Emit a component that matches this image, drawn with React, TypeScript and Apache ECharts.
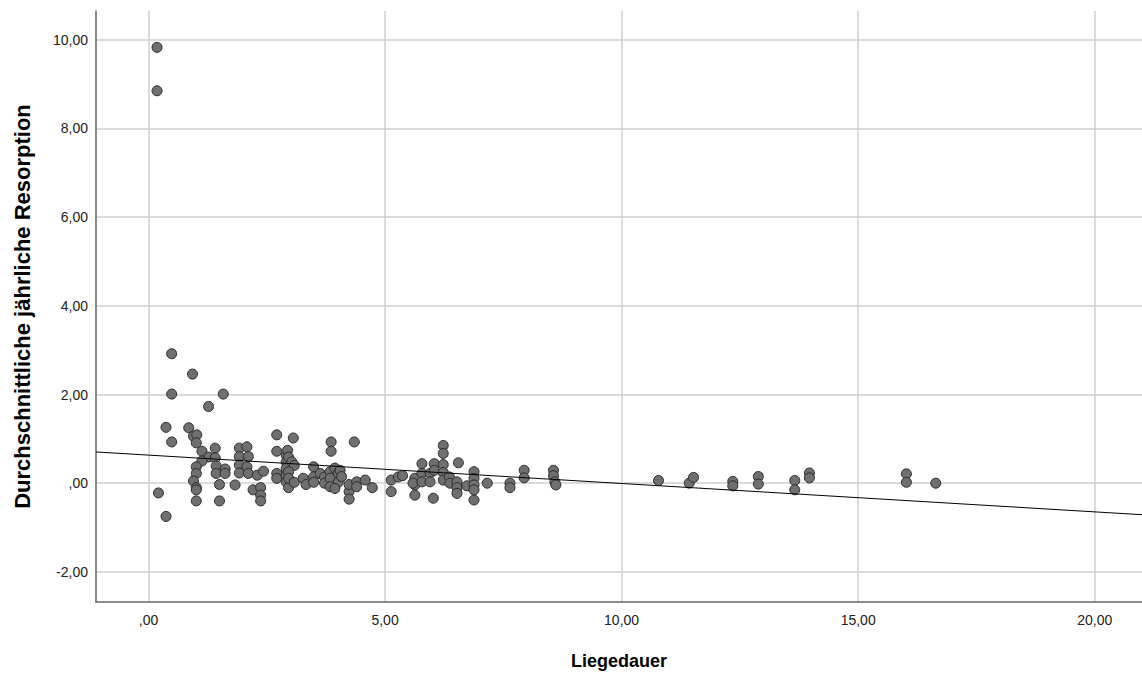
import React, { useEffect, useRef } from "react";
import * as echarts from "echarts";

// Scatter data: [Liegedauer, Durchschnittliche jährliche Resorption]
const outlierPoints: number[][] = [
  [0.18, 9.83], [0.18, 8.85],
];
const earlyPoints: number[][] = [
  [0.49, 2.92], [0.93, 2.46], [0.49, 2.01], [1.58, 2.01], [1.27, 1.73], [0.37, 1.26],
  [0.49, 0.93], [0.85, 1.25], [0.21, -0.22], [0.37, -0.75],
  [0.95, 1.06], [1.02, 1.09], [1.01, 0.91], [1.13, 0.72], [1.27, 0.59], [1.13, 0.5],
  [1.01, 0.37], [1.01, 0.22], [0.95, 0.05], [1.01, -0.1], [1.01, -0.15], [1.01, -0.4],
  [1.41, 0.79], [1.41, 0.57], [1.43, 0.39], [1.43, 0.22], [1.62, 0.32], [1.62, 0.22],
  [1.5, -0.03], [1.5, -0.4], [1.83, -0.04],
  [1.92, 0.79], [2.08, 0.82], [1.92, 0.6], [2.11, 0.6], [1.92, 0.41], [2.08, 0.37],
  [1.92, 0.23], [2.11, 0.22], [2.3, 0.18], [2.43, 0.27], [2.21, -0.15], [2.37, -0.1],
  [2.37, -0.27], [2.37, -0.4],
  [2.71, 1.09], [2.71, 0.72], [2.71, 0.22], [2.71, 0.11],
  [2.91, 0.63], [2.91, 0.48], [2.91, 0.33], [2.91, 0.18], [2.91, 0.03], [2.96, -0.1], [3.06, 1.02],
];
const midPoints: number[][] = [
  [2.94, 0.74], [2.96, 0.59], [3.03, 0.48], [3.08, 0.4], [2.96, 0.26], [2.96, 0.11],
  [3.08, 0.02], [3.27, 0.11], [3.33, -0.03], [3.49, 0.37], [3.49, 0.14], [3.49, 0.02],
  [3.63, 0.22], [3.72, 0.14], [3.72, 0.0], [3.86, 0.93], [3.86, 0.72], [3.84, 0.26],
  [3.84, 0.11], [3.84, -0.08], [3.94, 0.34], [4.01, 0.22], [4.01, 0.02], [3.94, -0.12],
  [4.05, 0.29], [4.08, 0.15], [4.35, 0.93], [4.24, -0.19], [4.24, -0.36], [4.24, -0.03],
  [4.4, 0.03], [4.4, -0.08], [4.58, 0.07], [4.73, -0.1], [5.13, 0.07], [5.13, -0.19],
  [5.28, 0.14], [5.37, 0.17], [5.63, 0.11], [5.63, -0.04], [5.63, -0.27], [5.59, 0.0],
  [5.78, 0.44], [5.78, 0.22], [5.78, 0.03], [5.95, 0.22], [5.95, 0.03], [6.04, 0.44],
  [6.04, 0.29], [6.02, -0.34], [6.23, 0.85], [6.23, 0.67], [6.23, 0.42], [6.23, 0.24],
  [6.23, 0.07], [6.36, 0.14], [6.37, 0.0], [6.55, 0.46], [6.52, 0.03], [6.52, -0.1],
  [6.52, -0.23], [6.73, -0.06], [6.88, 0.26], [6.88, 0.11], [6.88, -0.04], [6.88, -0.15],
  [6.88, -0.38], [7.16, 0.0],
];
const latePoints: number[][] = [
  [7.64, 0.0], [7.64, -0.1], [7.94, 0.29], [7.94, 0.12], [8.56, 0.29], [8.56, 0.17],
  [8.59, 0.03], [8.61, -0.04],
  [10.78, 0.06], [11.43, 0.0], [11.52, 0.13], [12.35, 0.04], [12.35, -0.06], [12.89, 0.15],
  [12.89, -0.02], [13.66, 0.06], [13.66, -0.15], [13.97, 0.23], [13.97, 0.12], [16.02, 0.21],
  [16.02, 0.02], [16.64, 0.0],
];

// Fit line (linear regression)
const fitIntercept = 0.633;
const fitSlope = -0.064;
const xRange = [-1.11, 21.0];
const yRange = [-2.68, 10.65];

const xTitle = "Liegedauer";
const yTitle = "Durchschnittliche jährliche Resorption";

const fmt = (v: number) => {
  let s = Math.abs(v).toFixed(2).replace(".", ",");
  if (s.startsWith("0,")) s = s.slice(1);
  return (v < 0 ? "-" : "") + s;
};

export default function App() {
  const ref = useRef<HTMLDivElement>(null);
  useEffect(() => {
    if (!ref.current) return;
    const chart = echarts.init(ref.current, undefined, { renderer: "svg" });
    const points = [...outlierPoints, ...earlyPoints, ...midPoints, ...latePoints];
    const fitLine = xRange.map((x) => [x, fitIntercept + fitSlope * x]);
    const font = "'Liberation Sans', Arial, sans-serif";
    chart.setOption({
      animation: false,
      backgroundColor: "#ffffff",
      grid: { left: 96, right: 0, top: 11, bottom: 69, containLabel: false },
      xAxis: {
        type: "value",
        min: xRange[0],
        max: xRange[1],
        splitNumber: 5,
        name: xTitle,
        nameLocation: "middle",
        nameGap: 50,
        nameTextStyle: { fontFamily: font, fontSize: 18, fontWeight: "bold", color: "#000" },
        axisLine: { show: true, onZero: false, lineStyle: { color: "#666", width: 1.5 } },
        axisTick: { show: false },
        axisLabel: {
          fontFamily: font, fontSize: 14, color: "#222", margin: 11,
          showMinLabel: false, showMaxLabel: false,
          formatter: (v: number) => fmt(v),
        },
        splitLine: { show: true, showMinLine: false, showMaxLine: false, lineStyle: { color: "#cfcfcf", width: 1.5 } },
      },
      yAxis: {
        type: "value",
        min: yRange[0],
        max: yRange[1],
        splitNumber: 7,
        name: yTitle,
        nameLocation: "middle",
        nameGap: 63,
        nameTextStyle: { fontFamily: font, fontSize: 22, fontWeight: "bold", color: "#000" },
        axisLine: { show: true, onZero: false, lineStyle: { color: "#666", width: 1.5 } },
        axisTick: { show: false },
        axisLabel: {
          fontFamily: font, fontSize: 14, color: "#222", margin: 8,
          showMinLabel: false, showMaxLabel: false,
          formatter: (v: number) => fmt(v),
        },
        splitLine: { show: true, showMinLine: false, showMaxLine: false, lineStyle: { color: "#cfcfcf", width: 1.5 } },
      },
      series: [
        {
          type: "line",
          data: fitLine,
          symbol: "none",
          lineStyle: { color: "#000", width: 1 },
          z: 3,
        },
        {
          type: "scatter",
          data: points,
          symbolSize: 10,
          itemStyle: { color: "#6f6f6f", borderColor: "#2b2b2b", borderWidth: 1, opacity: 1 },
          z: 2,
        },
      ],
    });
    return () => chart.dispose();
  }, []);
  return (
    <div
      ref={ref}
      style={{ position: "fixed", left: 0, top: 0, width: 1142, height: 675 }}
    />
  );
}
